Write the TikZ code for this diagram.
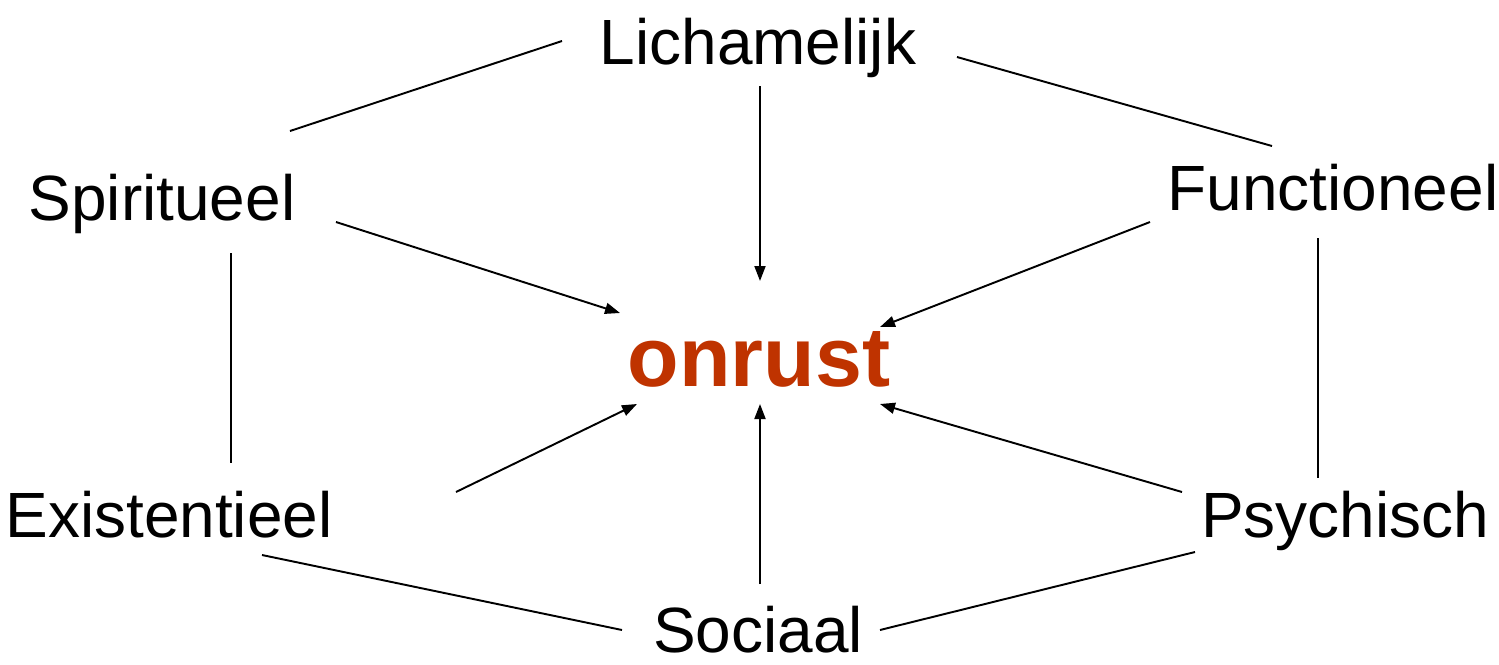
\documentclass[tikz,border=0pt]{standalone}
\usepackage{fontspec}
\setmainfont{Liberation Sans}
\usetikzlibrary{arrows.meta}
\definecolor{onrustred}{RGB}{191,51,0}
\begin{document}
\begin{tikzpicture}[x=0.02cm,y=-0.02cm,
  lbl/.style={font=\fontsize{36.4}{40}\selectfont, anchor=base, inner sep=0pt},
  ctr/.style={font=\bfseries\fontsize{48}{52}\selectfont, anchor=base, inner sep=0pt, text=onrustred},
  link/.style={line width=1.1pt},
  arr/.style={line width=1.1pt, -{Triangle[length=0.3cm,width=0.22cm]}}]
\useasboundingbox (0,0) rectangle (1499,664);
\node[lbl] (lich) at (758,64) {Lichamelijk};
\node[lbl] (spir) at (162,220) {Spiritueel};
\node[lbl] (func) at (1333,210) {Functioneel};
\node[lbl] (exis) at (169,537) {Existentieel};
\node[lbl] (psyc) at (1345,537) {Psychisch};
\node[lbl] (soci) at (758,652) {Sociaal};
\node[ctr] (onr) at (759,386) {onrust};
% endpoints
\coordinate (ls1) at (562,41);   \coordinate (ls2) at (290,131);
\coordinate (lf1) at (957,57);   \coordinate (lf2) at (1272,146);
\coordinate (se1) at (231,253);  \coordinate (se2) at (231,463);
\coordinate (fp1) at (1318,238); \coordinate (fp2) at (1318,478);
\coordinate (es1) at (262,555);  \coordinate (es2) at (622,630);
\coordinate (ps1) at (1195,552); \coordinate (ps2) at (880,630);
\coordinate (la1) at (760,86);   \coordinate (la2) at (760,281);
\coordinate (sa1) at (336,222);  \coordinate (sa2) at (620,313);
\coordinate (fa1) at (1150,222); \coordinate (fa2) at (880,327);
\coordinate (ea1) at (456,492);  \coordinate (ea2) at (637,404);
\coordinate (oa1) at (760,584);  \coordinate (oa2) at (760,404);
\coordinate (pa1) at (1182,492); \coordinate (pa2) at (880,404);
\draw[link] (ls1) -- (ls2);
\draw[link] (lf1) -- (lf2);
\draw[link] (se1) -- (se2);
\draw[link] (fp1) -- (fp2);
\draw[link] (es1) -- (es2);
\draw[link] (ps1) -- (ps2);
\draw[arr] (la1) -- (la2);
\draw[arr] (sa1) -- (sa2);
\draw[arr] (fa1) -- (fa2);
\draw[arr] (ea1) -- (ea2);
\draw[arr] (oa1) -- (oa2);
\draw[arr] (pa1) -- (pa2);
\end{tikzpicture}
\end{document}
